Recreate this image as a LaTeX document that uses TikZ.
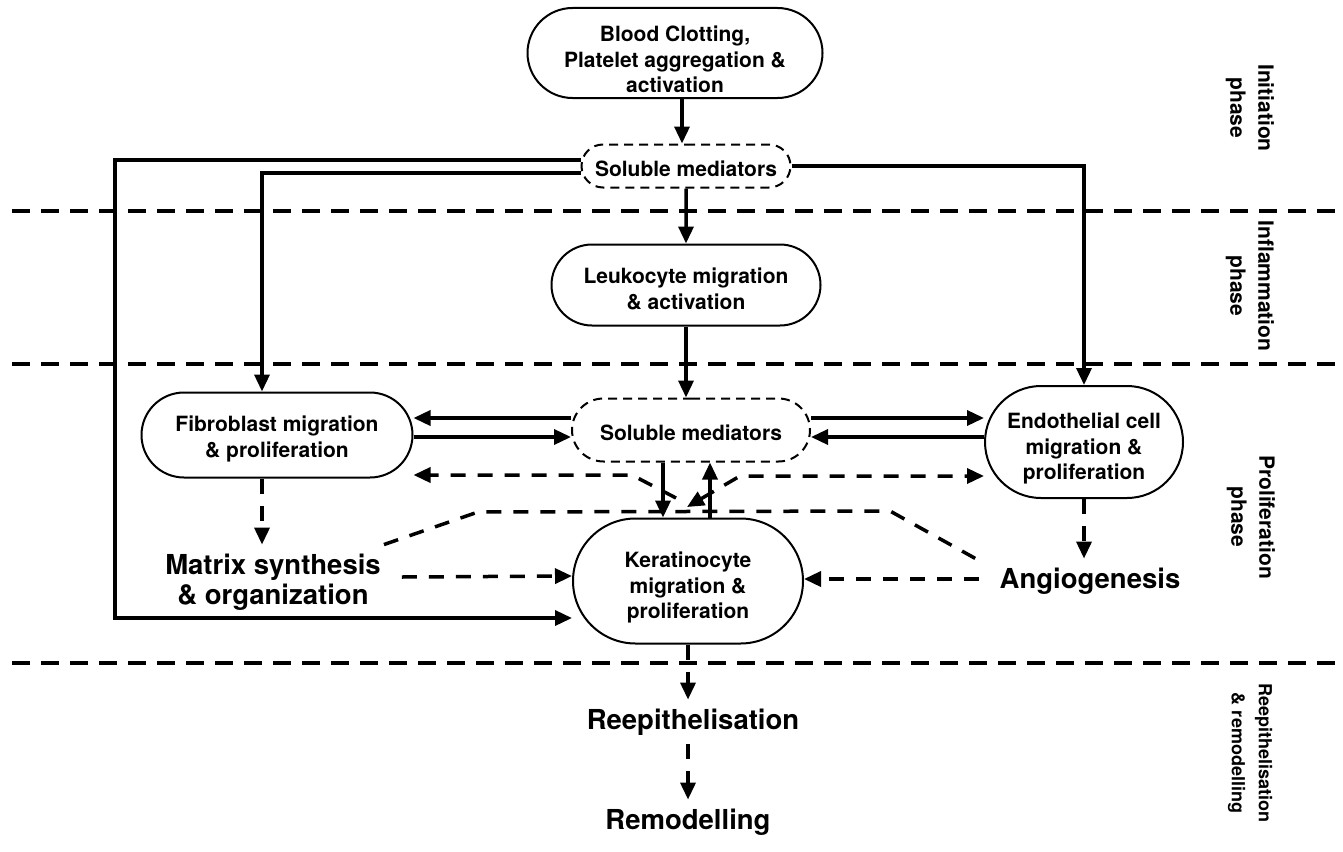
\documentclass[tikz,border=0pt]{standalone}
\usepackage{fontspec}
\setmainfont{TeX Gyre Heros}
\usepackage{tikz}
\usetikzlibrary{shapes.misc,arrows.meta,positioning}

\newcommand{\cellfont}{\fontsize{21}{25.5}\selectfont\bfseries}
\newcommand{\phasefont}{\fontsize{21}{28}\selectfont\bfseries}
\newcommand{\smallphase}{\fontsize{18}{27}\selectfont\bfseries}
\newcommand{\outfont}{\fontsize{27.5}{30}\selectfont\bfseries}

\begin{document}
\begin{tikzpicture}[
    x=1pt, y=-1pt,
    >={Triangle[length=17pt,width=15pt]},
    box/.style={rounded rectangle, draw, line width=2pt, inner sep=0pt, align=center, font=\cellfont,
        execute at begin node={\rule{0pt}{#1}}},
    box/.default=49pt,
    mediator/.style={box=21pt, dash pattern=on 9pt off 6pt},
    arrow/.style={->, line width=3.5pt},
    darrow/.style={->, line width=3.5pt, dash pattern=on 15pt off 12pt},
    dline/.style={line width=3.5pt, dash pattern=on 15pt off 12pt},
    border/.style={line width=4pt, dash pattern=on 18pt off 11pt},
    outcome/.style={font=\outfont, align=center, inner xsep=3pt, inner ysep=9pt},
    phase/.style={rotate=-90, align=center, font=\phasefont}
]
    \path[fill=white, use as bounding box] (0,0) rectangle (1343,851);

    % Phase borders
    \foreach \y in {211,364,663}
        \draw[border] (12,\y) -- (1343,\y);

    % Nodes
    \node[box=80pt, minimum width=295pt, minimum height=90pt] (clot) at (675,53) {Blood Clotting,\\Platelet aggregation \&\\activation};
    \node[mediator, minimum width=209pt, minimum height=43pt] (sm1) at (686,166) {Soluble mediators};
    \node[box, minimum width=269pt, minimum height=81pt] (leuko) at (686,285) {Leukocyte migration\\\& activation};
    \node[box, minimum width=271pt, minimum height=85pt] (fib) at (277,435) {Fibroblast migration\\\& proliferation};
    \node[mediator, minimum width=238pt, minimum height=63pt] (sm2) at (691,430) {Soluble mediators};
    \node[box=80pt, minimum width=198pt, minimum height=112pt] (endo) at (1084,442) {Endothelial cell\\migration \&\\proliferation};
    \node[box=80pt, minimum width=230pt, minimum height=125pt] (kera) at (688,581) {Keratinocyte\\migration \&\\proliferation};
    \node[outcome] (matrix) at (273,582) {Matrix synthesis\\\& organization};
    \node[outcome] (angio) at (1090,581) {Angiogenesis};
    \node[outcome] (reepi) at (693,722) {Reepithelisation};
    \node[outcome] (remod) at (688,822) {Remodelling};

    % Phase labels
    \node[phase] (initph) at (1250,108) {Initiation\\phase};
    \node[phase] (inflph) at (1250,286) {Inflammation\\phase};
    \node[phase] (prolph) at (1251,517) {Proliferation\\phase};
    \node[phase, font=\smallphase] (remph) at (1250,753) {Reepithelisation\\\& remodelling};

    % Bends
    \coordinate (outer) at (115,618);
    \coordinate (kl) at (676,498);
    \coordinate (dl) at (632,475);
    \coordinate (kr) at (687,507);
    \coordinate (dr) at (740,476);
    \coordinate (ul) at (478,512);
    \coordinate (ur) at (890,511);

    % Arrows
    \draw[arrow] ([xshift=7pt]clot.south) -- ([xshift=-4pt]sm1.north);
    \draw[arrow] (sm1) -- (leuko);
    \draw[arrow] (leuko.south) -- ([xshift=-5pt]sm2.north);
    \draw[arrow] ([yshift=6pt]sm1.west) -| (outer) -- ([yshift=-37pt]kera.west);
    \draw[arrow] ([yshift=-7pt]sm1.west) -| ([xshift=-15pt]fib.north);
    \draw[arrow] (sm1.east) -| (endo.north);
    \draw[arrow] ([yshift=12pt]sm2.west) -- ([yshift=17pt]fib.east);
    \draw[arrow] ([yshift=-2pt]fib.east) -- ([yshift=-7pt]sm2.west);
    \draw[arrow] ([yshift=12pt]sm2.east) -- ([yshift=24pt]endo.west);
    \draw[arrow] ([yshift=5pt]endo.west) -- ([yshift=-7pt]sm2.east);
    \draw[arrow] ([xshift=-28pt]sm2.south) -- ([xshift=-25pt]kera.north);
    \draw[arrow] ([xshift=22pt]kera.north) -- ([xshift=19pt]sm2.south);

    % Dashed arrows
    \draw[darrow] (kl) -- (dl) -- (dl -| fib.east);
    \draw[darrow, <->] (kr) -- (dr) -- (dr -| endo.west);
    \draw[dline] (matrix.north east) -- (ul) -- (ur) -- ([xshift=-21pt]angio.north west);
    \draw[darrow] ([xshift=-15pt]fib.south) -- ([xshift=-11pt]matrix.north);
    \draw[darrow] (endo.south) -- (endo.south |- angio.north);
    \draw[darrow] ([xshift=18pt,yshift=5pt]matrix.east) -- ([yshift=5pt]kera.west);
    \draw[darrow] ([xshift=-18pt,yshift=2pt]angio.west) -- ([yshift=2pt]kera.east);
    \draw[darrow] (kera.south) -- (kera.south |- reepi.north);
    \draw[darrow] (remod.north |- reepi.south) -- (remod.north);
\end{tikzpicture}
\end{document}
